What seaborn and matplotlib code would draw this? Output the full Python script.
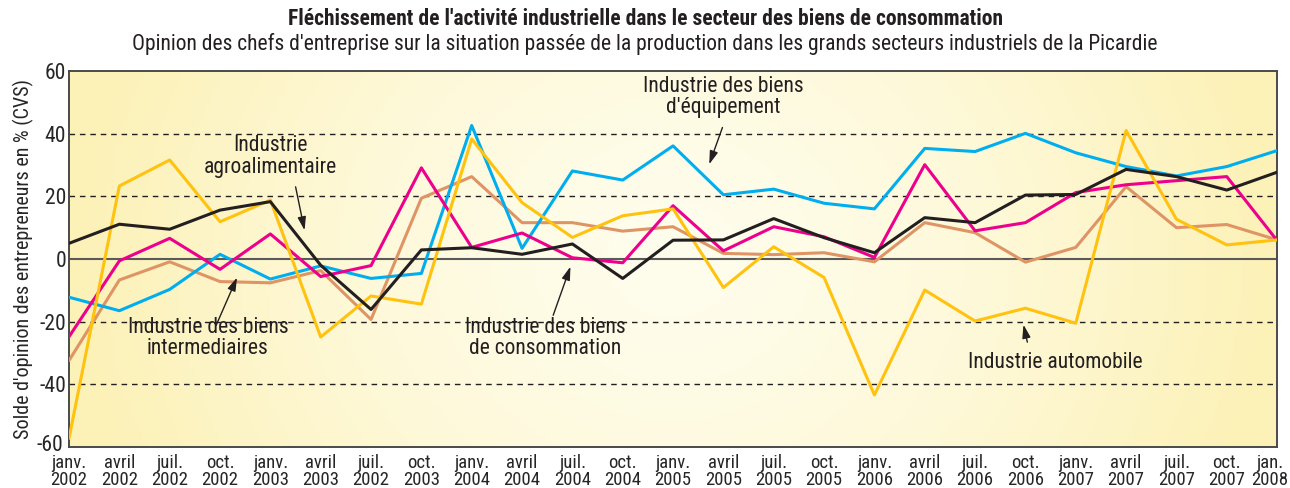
import numpy as np
import pandas as pd
import seaborn as sns
import matplotlib.pyplot as plt
from matplotlib import font_manager
from matplotlib.transforms import ScaledTranslation

sns.set_style("white")
available = {f.name for f in font_manager.fontManager.ttflist}
narrow = [n for n in ["Liberation Sans Narrow", "DejaVu Sans Condensed", "Roboto Condensed",
                      "Open Sans Condensed", "Noto Sans Condensed"] if n in available]
plt.rcParams["font.family"] = (narrow[:1] or ["Liberation Sans"]) + ["DejaVu Sans"]
plt.rcParams["axes.unicode_minus"] = False
scale = 1.0 if narrow else 0.9

# Quarterly labels (the 7th one reads "juil. 2002" in the original)
periods = ["janv.\n2002", "avril\n2002", "juil.\n2002", "oct.\n2002",
           "janv.\n2003", "avril\n2003", "juil.\n2002", "oct.\n2003",
           "janv.\n2004", "avril\n2004", "juil.\n2004", "oct.\n2004",
           "janv.\n2005", "avril\n2005", "juil.\n2005", "oct.\n2005",
           "janv.\n2006", "avril\n2006", "juil.\n2006", "oct.\n2006",
           "janv.\n2007", "avril\n2007", "juil.\n2007", "oct.\n2007",
           "jan.\n2008"]

automobile = [-57.2, 23.3, 31.6, 11.9, 18.8, -24.9, -11.8, -14.4, 38.3, 18.0,
              6.9, 13.8, 16.0, -9.1, 3.9, -5.9, -43.4, -9.9, -19.8, -15.7,
              -20.5, 41.0, 12.7, 4.5, 6.1]
agroalimentaire = [5.0, 11.1, 9.5, 15.6, 18.3, -2.0, -16.1, 2.9, 3.6, 1.5,
                   4.8, -6.2, 6.0, 6.1, 12.9, 6.8, 2.0, 13.2, 11.6, 20.4,
                   20.6, 28.6, 26.3, 22.0, 27.7]
consommation = [-24.8, -0.6, 6.6, -3.3, 8.0, -5.6, -2.1, 29.1, 3.7, 8.3,
                0.4, -1.2, 17.0, 2.6, 10.3, 7.1, 0.5, 30.1, 9.0, 11.6,
                21.2, 23.7, 25.0, 26.3, 5.9]
intermediaires = [-32.4, -6.7, -0.9, -7.2, -7.6, -3.7, -19.3, 19.4, 26.3, 11.6,
                  11.6, 8.9, 10.3, 1.8, 1.4, 2.0, -0.9, 11.6, 8.4, -1.0,
                  3.7, 23.1, 10.0, 11.0, 6.1]
equipement = [-12.2, -16.5, -9.7, 1.5, -6.4, -2.2, -6.2, -4.6, 42.6, 3.4,
              28.1, 25.2, 36.1, 20.5, 22.3, 17.8, 16.0, 35.3, 34.3, 40.1,
              33.9, 29.5, 26.5, 29.5, 34.6]

series = {"intermediaires": intermediaires, "equipement": equipement,
          "consommation": consommation, "automobile": automobile,
          "agroalimentaire": agroalimentaire}
colours = {"intermediaires": "#DF9465", "equipement": "#00AEEF",
           "consommation": "#EC008C", "automobile": "#FFC20E",
           "agroalimentaire": "#231F20"}

df = pd.concat([pd.DataFrame({"pos": range(len(periods)), "value": v, "serie": k})
                for k, v in series.items()], ignore_index=True)

fig = plt.figure(figsize=(12.9, 4.88), dpi=100)
ax = fig.add_axes([0.0535, 0.084, 0.9365, 0.7705])

# Cream background, lighter in the middle, more yellow towards the sides
gx, gy = np.meshgrid(np.linspace(-1, 1, 300), np.linspace(-1, 1, 120))
r = np.clip(np.sqrt(gx ** 2 + (gy * 0.35) ** 2), 0, 1)
c0 = np.array([255, 253, 236]) / 255
c1 = np.array([252, 241, 182]) / 255
img = c0 + (c1 - c0) * (r[..., None] ** 1.5)
ax.imshow(img, extent=[0, len(periods) - 1, -60, 60], aspect="auto", zorder=0)

for yv in [-40, -20, 20, 40]:
    ax.axhline(yv, color="#231F20", lw=1.0, ls=(0, (4, 3.5)), zorder=1)
ax.axhline(0, color="#5a5a5a", lw=1.5, zorder=1)

sns.lineplot(data=df, x="pos", y="value", hue="serie", palette=colours,
             linewidth=2.2, legend=False, ax=ax, zorder=3)

ax.set_xlim(0, len(periods) - 1)
ax.set_ylim(-60, 60)
ax.set_xticks(range(len(periods)))
ax.set_xticklabels(periods, fontsize=13.5 * scale, linespacing=0.95)
ax.set_yticks([-60, -40, -20, 0, 20, 40, 60])
ax.set_yticklabels(["-60", "-40", "-20", "0", "20", "40", "60"], fontsize=15.5 * scale)
ax.tick_params(axis="x", direction="out", length=5, width=1.2, color="#333333", pad=0)
ax.tick_params(axis="y", length=0, pad=2)
ax.set_xlabel("")
ax.set_ylabel("Solde d'opinion des entrepreneurs en % (CVS)", fontsize=14.5 * scale, labelpad=2)
for s in ax.spines.values():
    s.set_color("#4a4a4a")
    s.set_linewidth(1.4)

# keep the last date inside the picture, lift "-60" off the first date
last = ax.get_xticklabels()[-1]
last.set_transform(last.get_transform() + ScaledTranslation(-5 / 72, 0, fig.dpi_scale_trans))
low = ax.get_yticklabels()[0]
low.set_transform(low.get_transform() + ScaledTranslation(-2 / 72, 3 / 72, fig.dpi_scale_trans))

# Series labels with arrows
arrow = dict(arrowstyle="-|>,head_length=0.8,head_width=0.25", color="#231F20", lw=1.0)
notes = [("Industrie des biens\nd'équipement", (13.0, 51.7), (13.0, 42.8), (12.70, 29.4)),
         ("Industrie\nagroalimentaire", (4.0, 32.6), (4.49, 23.9), (4.69, 8.3)),
         ("Industrie des biens\nintermediaires", (2.76, -25.2), (2.90, -22.0), (3.36, -5.1)),
         ("Industrie des biens\nde consommation", (9.46, -25.2), (9.6, -18.8), (9.98, -1.6)),
         ("Industrie automobile", (19.6, -32.9), (19.05, -27.4), (18.95, -20.1))]
for txt, pos, tail, head in notes:
    ax.text(pos[0], pos[1], txt, ha="center", va="center", fontsize=15.5 * scale,
            color="#231F20", linespacing=1.05, zorder=5)
    ax.annotate("", xy=head, xytext=tail, arrowprops=arrow, zorder=5)

fig.text(0.5, 0.962, "Fléchissement de l'activité industrielle dans le secteur des biens de consommation",
         ha="center", va="center", fontsize=15.5 * scale, fontweight="bold", color="#231F20")
fig.text(0.5, 0.91, "Opinion des chefs d'entreprise sur la situation passée de la production dans les grands secteurs industriels de la Picardie",
         ha="center", va="center", fontsize=15.5 * scale, color="#231F20")

fig.savefig("out.png", dpi=100)
